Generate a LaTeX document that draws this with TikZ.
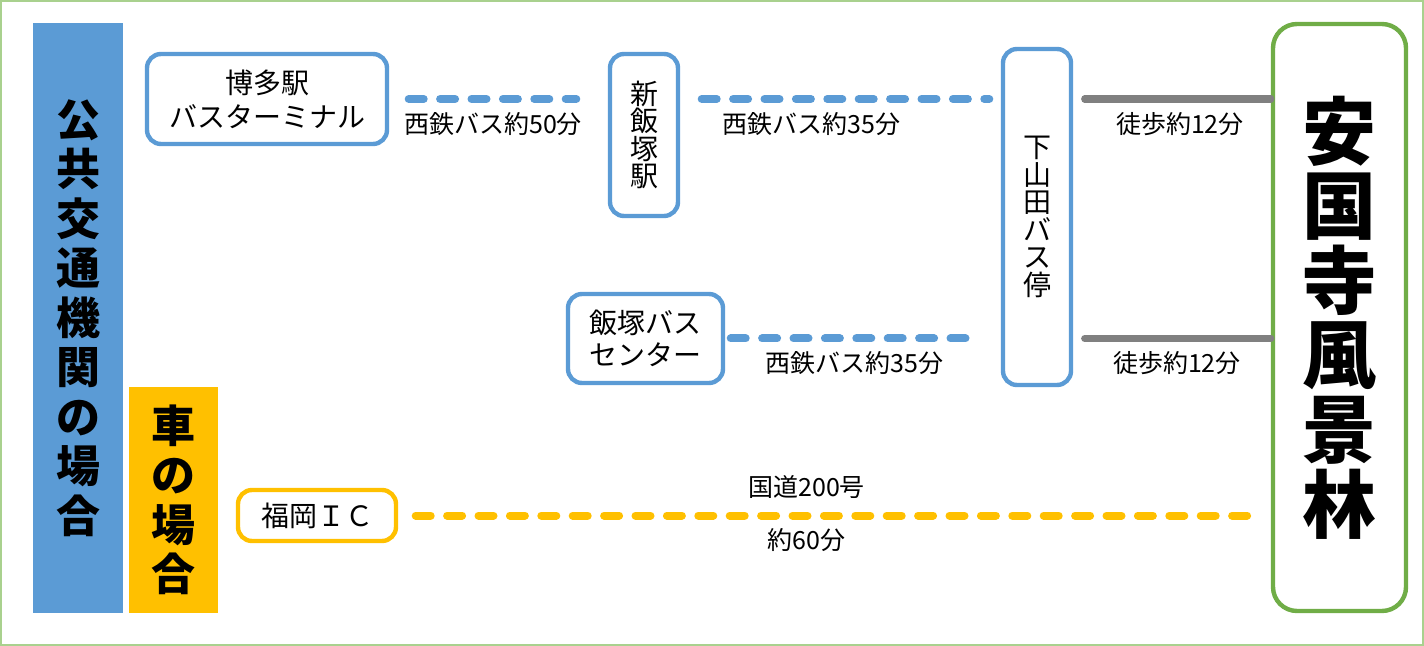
\documentclass[tikz,border=0pt]{standalone}
\usepackage{fontspec}
\setmainfont{Noto Sans CJK JP}
\usetikzlibrary{positioning}
\definecolor{busblue}{HTML}{5B9BD5}
\definecolor{caryellow}{HTML}{FFC000}
\definecolor{forestgreen}{HTML}{70AD47}
\definecolor{framegreen}{HTML}{A9D18E}
\definecolor{walkgray}{HTML}{808080}
\tikzset{
  stop/.style={rectangle, rounded corners=7pt, draw=#1, fill=white, line width=2.2pt,
               align=center, inner sep=0pt, font=\fontsize{14}{17}\selectfont},
  stop/.default=busblue,
  tate/.style={stop, font=\fontsize{14}{13.75}\selectfont},
  band/.style={rectangle, fill=#1, inner sep=0pt, align=center,
               font=\fontsize{22}{24.75}\selectfont\bfseries},
  lbl/.style={font=\fontsize{12.5}{14}\selectfont, text=black, yshift=-12.5pt},
  lblup/.style={font=\fontsize{12.5}{14}\selectfont, text=black, yshift=14pt},
  bus/.style={line width=4pt, line cap=round, dash pattern=on 7.5pt off 8.2pt, #1},
  bus/.default=busblue,
  walk/.style={line width=3.6pt, line cap=round, walkgray},
}
\setlength{\lineskiplimit}{-20pt}
\begin{document}
\begin{tikzpicture}[x=0.5pt, y=-0.5pt]
  \useasboundingbox (0,0) rectangle (1424,646);
  \draw[framegreen, line width=1.3pt] (1,1) rectangle (1423,645);

  % left bands
  \node[band=busblue, minimum width=45pt, minimum height=295pt] (pub) at (78,318)
    {公\\共\\交\\通\\機\\関\\の\\場\\合};
  \node[band=caryellow, minimum width=44.5pt, minimum height=113pt,
        right=2.5pt of pub.south east, anchor=south west] (car)
    {車\\の\\場\\合};

  % stops
  \node[stop, minimum width=120pt, minimum height=45pt] (hakata) at (267,99)
    {博多駅\\バスターミナル};
  \node[tate, minimum width=34pt, minimum height=81pt] (shin) at (644,135)
    {新\\飯\\塚\\駅};
  \node[tate, minimum width=34pt, minimum height=168pt] (shimo) at (1037,217)
    {下\\山\\田\\バ\\ス\\停};
  \node[stop, minimum width=77.5pt, minimum height=44.5pt,
        font=\fontsize{14}{16}\selectfont] (iizuka) at (645.5,338.5)
    {飯塚バス\\センター};
  \node[stop=caryellow, minimum width=79pt, minimum height=25.5pt] (ic) at (317,515.5)
    {福岡ＩＣ};
  \node[rectangle, rounded corners=12pt, draw=forestgreen, fill=white, line width=2.2pt,
        minimum width=66.5pt, minimum height=293.5pt, inner sep=0pt, align=center,
        font=\fontsize{37}{37.3}\selectfont\bfseries] (ankoku) at (1339.5,317.5)
    {安\\国\\寺\\風\\景\\林};

  % routes
  \draw[bus, shorten <=9.75pt, shorten >=15.75pt] (hakata.east) -- (hakata.east -| shin.west)
    node[lbl, pos=0.475] {西鉄バス約50分};
  \draw[bus, shorten <=10.75pt, shorten >=5.75pt] (hakata.east -| shin.east) -- (hakata.east -| shimo.west)
    node[lbl, pos=0.41] {西鉄バス約35分};
  \draw[bus, shorten <=2.75pt, shorten >=17.25pt] (iizuka.east) -- (iizuka.east -| shimo.west)
    node[lbl, pos=0.47] {西鉄バス約35分};
  \draw[walk, shorten <=5.75pt] (shimo.east |- hakata.east) -- (ankoku.west |- hakata.east)
    node[lbl, pos=0.54] {徒歩約12分};
  \draw[walk, shorten <=5.75pt] (shimo.east |- iizuka.east) -- (ankoku.west |- iizuka.east)
    node[lbl, pos=0.525] {徒歩約12分};
  \draw[bus=caryellow, shorten <=8.75pt, shorten >=6.25pt] (ic.east) -- (ic.east -| ankoku.west)
    node[lblup, pos=0.468] {国道200号}
    node[lbl, pos=0.468] {約60分};
\end{tikzpicture}
\end{document}
